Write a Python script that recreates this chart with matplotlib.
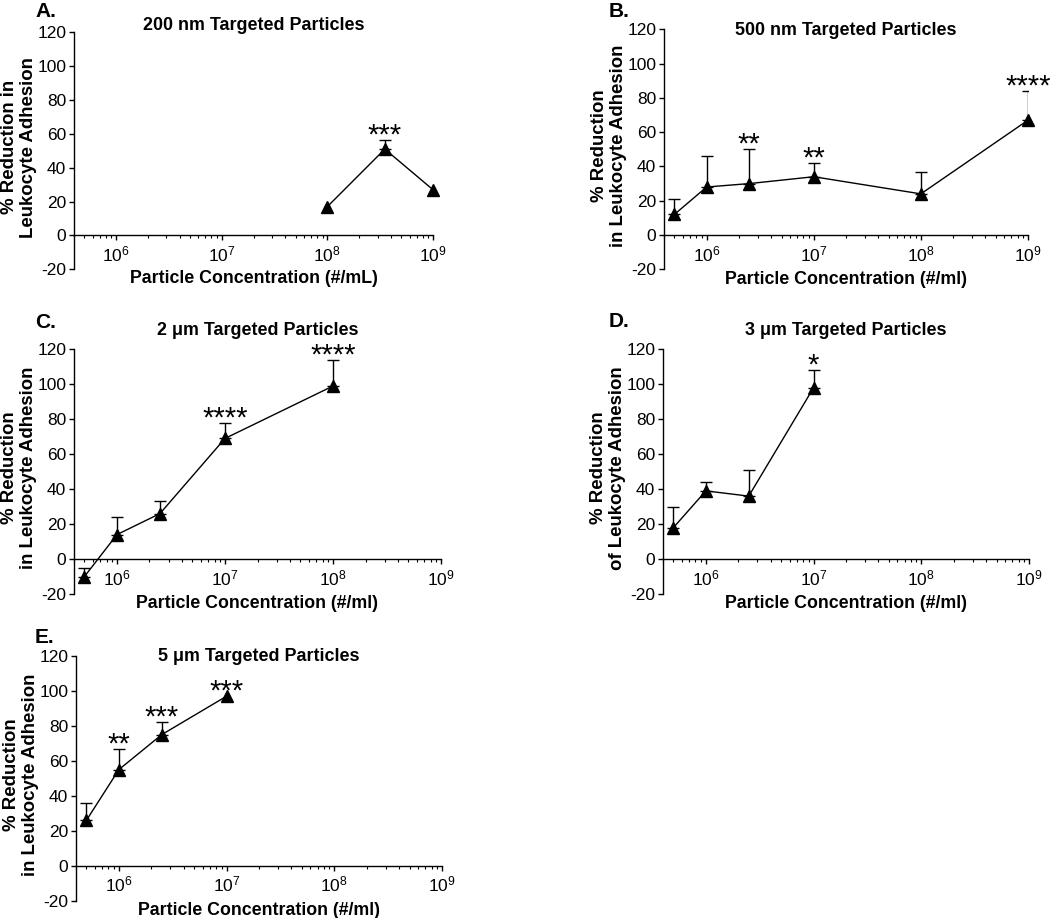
import matplotlib
matplotlib.use('Agg')
import matplotlib.pyplot as plt
from matplotlib.ticker import LogLocator, FixedLocator, NullFormatter
import numpy as np

plt.rcParams['font.family'] = ['Liberation Sans', 'DejaVu Sans']
plt.rcParams['mathtext.default'] = 'regular'
plt.rcParams['axes.unicode_minus'] = False

# ---------------- data ----------------
a_conc = [1e8, 3.5e8, 1e9]
a_mean = [17, 51, 27]
a_err = [0, 5.5, 0]
a_stars = ['', '***', '']

b_conc = [5e5, 1e6, 2.5e6, 1e7, 1e8, 1e9]
b_mean = [12, 28, 30, 34, 24, 67]
b_err = [9, 18, 20, 8, 12.5, 17]
b_stars = ['', '', '**', '**', '', '****']

c_conc = [5e5, 1e6, 2.5e6, 1e7, 1e8]
c_mean = [-10, 14, 26, 69, 99]
c_err = [5, 10, 7, 9, 15]
c_stars = ['', '', '', '****', '****']

d_conc = [5e5, 1e6, 2.5e6, 1e7]
d_mean = [18, 39, 36, 98]
d_err = [12, 5, 15, 10]
d_stars = ['', '', '', '*']

e_conc = [5e5, 1e6, 2.5e6, 1e7]
e_mean = [26, 55, 75, 97]
e_err = [10, 12, 7, 0]
e_stars = ['', '**', '***', '***']

titles = ['200 nm Targeted Particles', '500 nm Targeted Particles',
          '2 \u03bcm Targeted Particles', '3 \u03bcm Targeted Particles',
          '5 \u03bcm Targeted Particles']
letters = ['A.', 'B.', 'C.', 'D.', 'E.']
xlabels = ['Particle Concentration (#/mL)'] + ['Particle Concentration (#/ml)'] * 4
ylabels = ['% Reduction in\nLeukocyte Adhesion',
           '% Reduction\nin Leukocyte Adhesion',
           '% Reduction\nin Leukocyte Adhesion',
           '% Reduction\nof Leukocyte Adhesion',
           '% Reduction\nin Leukocyte Adhesion']
y_ticks = [-20, 0, 20, 40, 60, 80, 100, 120]
x_major = [1e6, 1e7, 1e8, 1e9]

series = [(a_conc, a_mean, a_err, a_stars),
          (b_conc, b_mean, b_err, b_stars),
          (c_conc, c_mean, c_err, c_stars),
          (d_conc, d_mean, d_err, d_stars),
          (e_conc, e_mean, e_err, e_stars)]

# ---------------- layout (pixels) ----------------
W, H = 1050, 918
fig = plt.figure(figsize=(W / 100, H / 100), dpi=100)

boxes = [(74, 32.3, 433, 269.3),
         (664, 29.3, 1028, 269.3),
         (74, 349.3, 441, 594),
         (663, 349.3, 1029, 594),
         (76, 656, 442, 900.7)]
title_y = [1.027, 0.994, 1.076, 1.076, 0.997]
letter_pos = [(35, 17.3), (609, 17.3), (35, 327.7), (609, 327.3), (35, 643.3)]

for i, (box, (xc, ym, ye, st)) in enumerate(zip(boxes, series)):
    l, t, r, b = box
    ax = fig.add_axes([l / W, 1 - b / H, (r - l) / W, (b - t) / H])
    ax.set_xscale('log')
    ax.set_xlim(4e5, 1e9)
    ax.set_ylim(-20, 120)
    ax.set_yticks(y_ticks)
    ax.xaxis.set_major_locator(FixedLocator(x_major))
    ax.xaxis.set_minor_locator(LogLocator(base=10, subs=np.arange(2, 10)))
    ax.xaxis.set_minor_formatter(NullFormatter())
    for s in ['top', 'right']:
        ax.spines[s].set_visible(False)
    ax.spines['bottom'].set_position(('data', 0))
    for s in ['left', 'bottom']:
        ax.spines[s].set_linewidth(1.0)
    ax.tick_params(axis='both', which='major', direction='out', length=3.5,
                   width=1.0, labelsize=12.5, pad=2)
    ax.tick_params(axis='x', which='minor', direction='out', length=2, width=0.8)
    ax.tick_params(axis='x', which='major', pad=3)

    xc = np.array(xc, dtype=float)
    ym = np.array(ym, dtype=float)
    ye = np.array(ye, dtype=float)
    m = ye > 0
    ax.errorbar(xc[m], ym[m], yerr=[np.zeros(m.sum()), ye[m]], fmt='none',
                ecolor='black', elinewidth=1.0, capsize=4, capthick=1.0, zorder=2)
    ax.plot(xc, ym, color='black', lw=1.0, marker='^', markersize=8,
            markerfacecolor='black', markeredgecolor='black', zorder=3,
            clip_on=False)
    for x, y, e, s in zip(xc, ym, ye, st):
        if s:
            ax.annotate(s, (x, y + e), xytext=(0, -2.5), textcoords='offset points',
                        ha='center', va='baseline', fontsize=21)

    ax.set_xlabel(xlabels[i], fontsize=12.8, fontweight='bold')
    ax.xaxis.set_label_coords(0.5, -0.005)
    ax.set_ylabel(ylabels[i], fontsize=13.4, fontweight='bold', linespacing=1.15)
    ax.yaxis.set_label_coords(-55 / (r - l), 0.515)
    ax.yaxis.label.set_va('center')
    ax.text(0.5, title_y[i], titles[i], transform=ax.transAxes, ha='center',
            va='center', fontsize=12.9, fontweight='bold')
    lx, ly = letter_pos[i]
    fig.text(lx / W, 1 - ly / H, letters[i], ha='left', va='baseline',
             fontsize=15, fontweight='bold')

fig.savefig('out.png', dpi=100, facecolor='white')
